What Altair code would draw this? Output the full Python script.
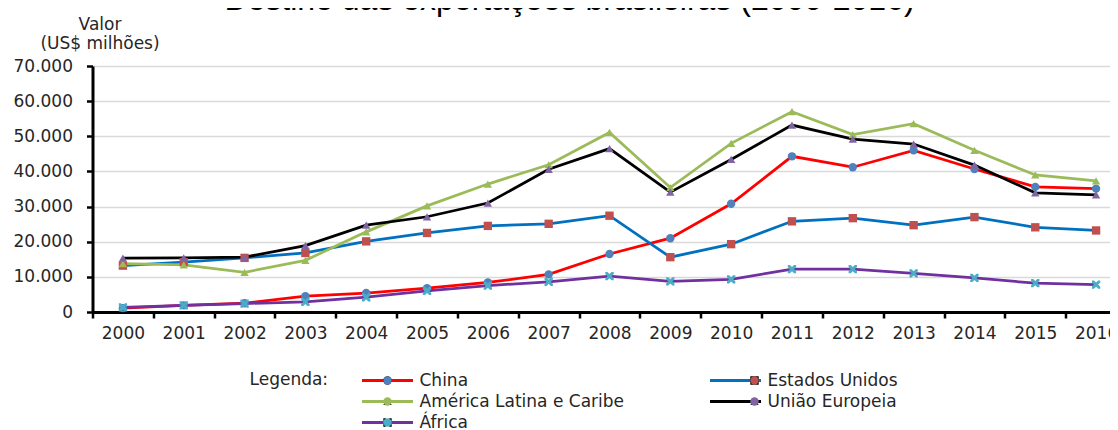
import altair as alt
import pandas as pd

# ---------------- data ----------------
YEARS = list(range(2000, 2017))
SERIES = ["China", "Estados Unidos", "América Latina e Caribe", "União Europeia", "África"]
CHINA = [1100, 1900, 2500, 4500, 5400, 6800, 8400, 10700, 16500, 21000, 30800, 44300, 41200, 46000, 40700, 35600, 35100]
EUA = [13200, 14200, 15400, 16800, 20100, 22500, 24500, 25100, 27400, 15600, 19300, 25800, 26700, 24700, 27000, 24100, 23200]
ALC = [13800, 13400, 11300, 14700, 22800, 30200, 36400, 41900, 51100, 35400, 48000, 57000, 50500, 53600, 46000, 39000, 37300]
UE = [15300, 15400, 15600, 18900, 24700, 27100, 31000, 40600, 46500, 34100, 43400, 53200, 49200, 47800, 41800, 33900, 33300]
AFRICA = [1300, 1900, 2400, 2900, 4200, 6000, 7500, 8600, 10200, 8700, 9300, 12200, 12200, 11000, 9700, 8200, 7800]
Y_TICKS = list(range(0, 70001, 10000))
TITLE = "Destino das exportações brasileiras (2000-2016)"
Y_TITLE = ["Valor", "(US$ milhões)"]
LEGEND_TITLE = "Legenda:"

# ---------------- styles ----------------
LINE_COLORS = ["#FF0000", "#0070C0", "#9BBB59", "#000000", "#7030A0"]
MARKER_COLORS = ["#4F81BD", "#C0504D", "#9BBB59", "#8064A2", "#4BACC6"]
X_PATH = ("M-1,-1L-0.5,-1L0,-0.5L0.5,-1L1,-1L1,-0.5L0.5,0L1,0.5L1,1L0.5,1"
          "L0,0.5L-0.5,1L-1,1L-1,0.5L-0.5,0L-1,-0.5Z")
SHAPES = ["circle", "square", "triangle-up", "triangle-up", X_PATH]
FONT = "DejaVu Sans"
FS = 17
TXT = "#262626"

rows = []
for name, vals in zip(SERIES, [CHINA, EUA, ALC, UE, AFRICA]):
    for yr, v in zip(YEARS, vals):
        rows.append({"ano": yr, "valor": v, "serie": name, "serie_m": name})
df = pd.DataFrame(rows)

x_enc = alt.X(
    "ano:O",
    scale=alt.Scale(type="band", range=[0, 1034], paddingInner=0, paddingOuter=0),
    axis=alt.Axis(
        title=None, tickBand="extent", labelAngle=0, labelFont=FONT, labelFontSize=FS,
        labelColor=TXT, labelPadding=7, tickColor="black", tickWidth=2.5, tickSize=6,
        domainColor="black", domainWidth=3, grid=False, labelOverlap=False,
    ),
)
y_enc = alt.Y(
    "valor:Q",
    scale=alt.Scale(domain=[0, 70000], nice=False, zero=True),
    axis=alt.Axis(
        values=Y_TICKS,
        labelExpr="replace(format(datum.value, ','), ',', '.')",
        grid=True, gridColor="#D9D9D9", gridWidth=1.5,
        tickColor="black", tickWidth=2.5, tickSize=6,
        domainColor="black", domainWidth=3,
        labelFont=FONT, labelFontSize=FS, labelColor=TXT, labelPadding=14,
        title=Y_TITLE, titleAngle=0, titleAlign="center", titleBaseline="alphabetic",
        titleX=7, titleY=-37, titleLineHeight=19, titleFont=FONT, titleFontSize=FS,
        titleFontWeight="normal", titleColor=TXT,
    ),
)

common_legend = dict(
    orient="none", legendX=157, legendY=304, columns=2, direction="horizontal",
    padding=0, offset=0,
    title=LEGEND_TITLE, titleOrient="left", titleAnchor="start", titleBaseline="line-top",
    titleLineHeight=21, titleFont=FONT, titleFontSize=FS, titleFontWeight="normal",
    titlePadding=32, labelFont=FONT, labelFontSize=FS, labelLimit=400,
    clipHeight=21, rowPadding=0, columnPadding=84,
)

lines = alt.Chart(df).mark_line(strokeWidth=2.75).encode(
    x=x_enc,
    y=y_enc,
    stroke=alt.Stroke(
        "serie:N",
        scale=alt.Scale(domain=SERIES, range=LINE_COLORS),
        legend=alt.Legend(
            symbolType="stroke", symbolSize=2601, symbolStrokeWidth=3, labelOffset=5,
            titleColor=TXT, labelColor=TXT, **common_legend,
        ),
    ),
)

marker_legend = alt.Legend(
    symbolSize=70, symbolStrokeWidth=0, labelOffset=42, symbolOffset=18.5,
    titleColor="transparent", labelColor="transparent", **common_legend,
)
points = alt.Chart(df).mark_point(filled=True, size=70, opacity=1, strokeWidth=0).encode(
    x=x_enc,
    y=y_enc,
    fill=alt.Fill("serie_m:N", sort=SERIES, scale=alt.Scale(range=MARKER_COLORS), legend=marker_legend),
    shape=alt.Shape("serie_m:N", sort=SERIES, scale=alt.Scale(range=SHAPES), legend=marker_legend),
)

title = alt.Chart(pd.DataFrame({"t": [TITLE]})).mark_text(
    font="Liberation Sans", fontSize=32, color="black", align="center", baseline="alphabetic",
).encode(text="t:N", x=alt.value(477), y=alt.value(-56))

chart = alt.layer(lines, points, title).properties(
    width=1017,
    height=246,
    autosize=alt.AutoSizeParams(type="none"),
    padding={"left": 84.5, "top": 58, "right": 0, "bottom": 118},
).configure_view(strokeWidth=0)

chart.save("out.html", embed_options={"renderer": "svg", "actions": False})
